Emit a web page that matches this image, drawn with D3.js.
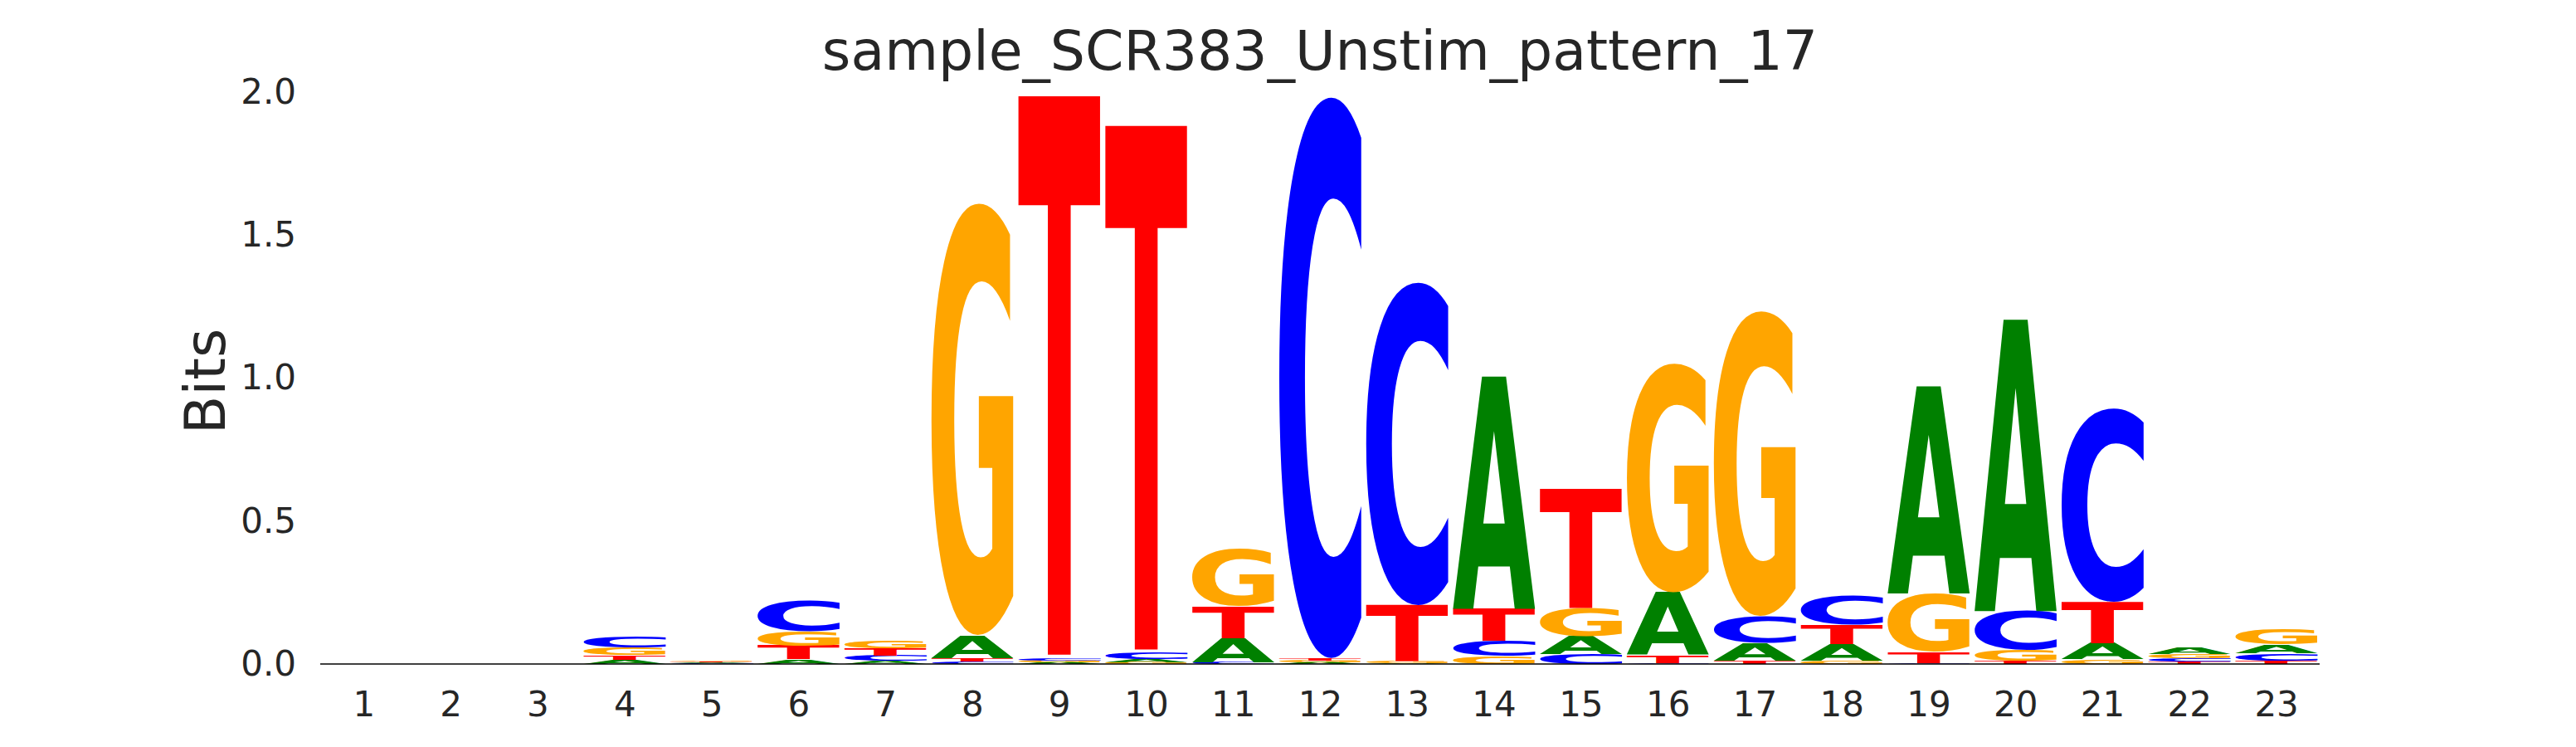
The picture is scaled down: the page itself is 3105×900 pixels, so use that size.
<!DOCTYPE html>
<html>
<head>
<meta charset="utf-8">
<script src="https://cdn.jsdelivr.net/npm/d3@7"></script>
<style>
  body { margin: 0; background: #fff; }
  text { font-family: "DejaVu Sans", sans-serif; }
</style>
</head>
<body>
<script>
// motif positions and information content (bits) per base
var positions = d3.range(1, 24);
var letters = ["A", "C", "G", "T"];
var bitsA = [0, 0, 0, 0.015, 0.003, 0.016, 0.010, 0.080, 0.006, 0.009, 0.084, 0.006, 0.002, 0.813, 0.063, 0.219, 0.061, 0.058, 0.725, 1.020, 0.055, 0.024, 0.031];
var bitsC = [0, 0, 0, 0.039, 0.002, 0.111, 0.019, 0.008, 0.007, 0.022, 0.006, 1.969, 1.132, 0.053, 0.034, 0.004, 0.094, 0.102, 0.004, 0.136, 0.679, 0.012, 0.025];
var bitsG = [0, 0, 0, 0.027, 0.004, 0.051, 0.029, 1.515, 0.006, 0.007, 0.202, 0.006, 0.006, 0.027, 0.097, 0.803, 1.070, 0.012, 0.204, 0.037, 0.017, 0.015, 0.053];
var bitsT = [0, 0, 0, 0.016, 0.003, 0.048, 0.026, 0.012, 1.969, 1.846, 0.111, 0.007, 0.197, 0.113, 0.418, 0.027, 0.012, 0.068, 0.039, 0.012, 0.145, 0.008, 0.012];
var yTicks = [0, 0.5, 1.0, 1.5, 2.0];

var width = 3105,
    height = 900;

var colors = {A: "#008000", C: "#0000ff", G: "#ffa500", T: "#ff0000"};
var bits = {A: bitsA, C: bitsC, G: bitsG, T: bitsT};

var svg = d3.select("body").append("svg")
    .attr("width", width)
    .attr("height", height);

var x = d3.scaleLinear()
    .domain([0.5, 23.5])
    .range([386, 2796]);

var y = d3.scaleLinear()
    .domain([0, 2])
    .range([800, 111]);

// ink bounds of each glyph, so letters can be stretched to fill their box
var FS = 200;
var ctx = document.createElement("canvas").getContext("2d");
ctx.font = "bold " + FS + "px 'DejaVu Sans'";
var ink = {};
letters.forEach(function(l) {
    var m = ctx.measureText(l);
    ink[l] = {
        left: -m.actualBoundingBoxLeft,
        right: m.actualBoundingBoxRight,
        top: -m.actualBoundingBoxAscent,
        bottom: m.actualBoundingBoxDescent
    };
});

// stack: smallest at the bottom
var glyphs = [];
positions.forEach(function(p, i) {
    var col = letters.map(function(l) { return {letter: l, value: bits[l][i]}; })
        .filter(function(d) { return d.value > 0; })
        .sort(function(a, b) { return a.value - b.value; });
    var floor = 0;
    col.forEach(function(d) {
        glyphs.push({pos: p, letter: d.letter, floor: floor, ceil: floor + d.value});
        floor += d.value;
    });
});

var halfW = 0.475;
var g = svg.append("g");

g.selectAll("text.glyph")
    .data(glyphs)
    .enter().append("text")
    .attr("class", "glyph")
    .attr("font-size", FS)
    .attr("font-weight", "bold")
    .attr("fill", function(d) { return colors[d.letter]; })
    .attr("transform", function(d) {
        var b = ink[d.letter];
        var x0 = x(d.pos - halfW), x1 = x(d.pos + halfW);
        var yt = y(d.ceil), yb = y(d.floor);
        var sx = (x1 - x0) / (b.right - b.left);
        var sy = (yb - yt) / (b.bottom - b.top);
        return "translate(" + x0 + "," + yt + ") scale(" + sx + "," + sy + ") translate(" + (-b.left) + "," + (-b.top) + ")";
    })
    .text(function(d) { return d.letter; });

// baseline
svg.append("line")
    .attr("x1", x(0.5))
    .attr("x2", x(23.5))
    .attr("y1", y(0))
    .attr("y2", y(0))
    .attr("stroke", "#000")
    .attr("stroke-width", 1.3);

// x axis
var xAxis = svg.append("g")
    .attr("transform", "translate(0," + y(0) + ")")
    .call(d3.axisBottom(x).tickValues(positions).tickSize(0).tickPadding(33).tickFormat(d3.format("d")));
xAxis.select(".domain").remove();
xAxis.selectAll("text")
    .attr("font-size", 42)
    .attr("font-family", "DejaVu Sans")
    .attr("fill", "#262626");

// y axis
var yAxis = svg.append("g")
    .attr("transform", "translate(" + x(0.5) + ",0)")
    .call(d3.axisLeft(y).tickValues(yTicks).tickSize(0).tickPadding(29).tickFormat(d3.format(".1f")));
yAxis.select(".domain").remove();
yAxis.selectAll("text")
    .attr("font-size", 42)
    .attr("font-family", "DejaVu Sans")
    .attr("fill", "#262626");

svg.append("text")
    .attr("transform", "translate(271," + ((y(0) + y(2)) / 2 + 4) + ") rotate(-90)")
    .attr("text-anchor", "middle")
    .attr("font-size", 68)
    .attr("fill", "#262626")
    .text("Bits");

svg.append("text")
    .attr("x", (x(0.5) + x(23.5)) / 2)
    .attr("y", 84)
    .attr("text-anchor", "middle")
    .attr("font-size", 66.5)
    .attr("fill", "#262626")
    .text("sample_SCR383_Unstim_pattern_17");
</script>
</body>
</html>
